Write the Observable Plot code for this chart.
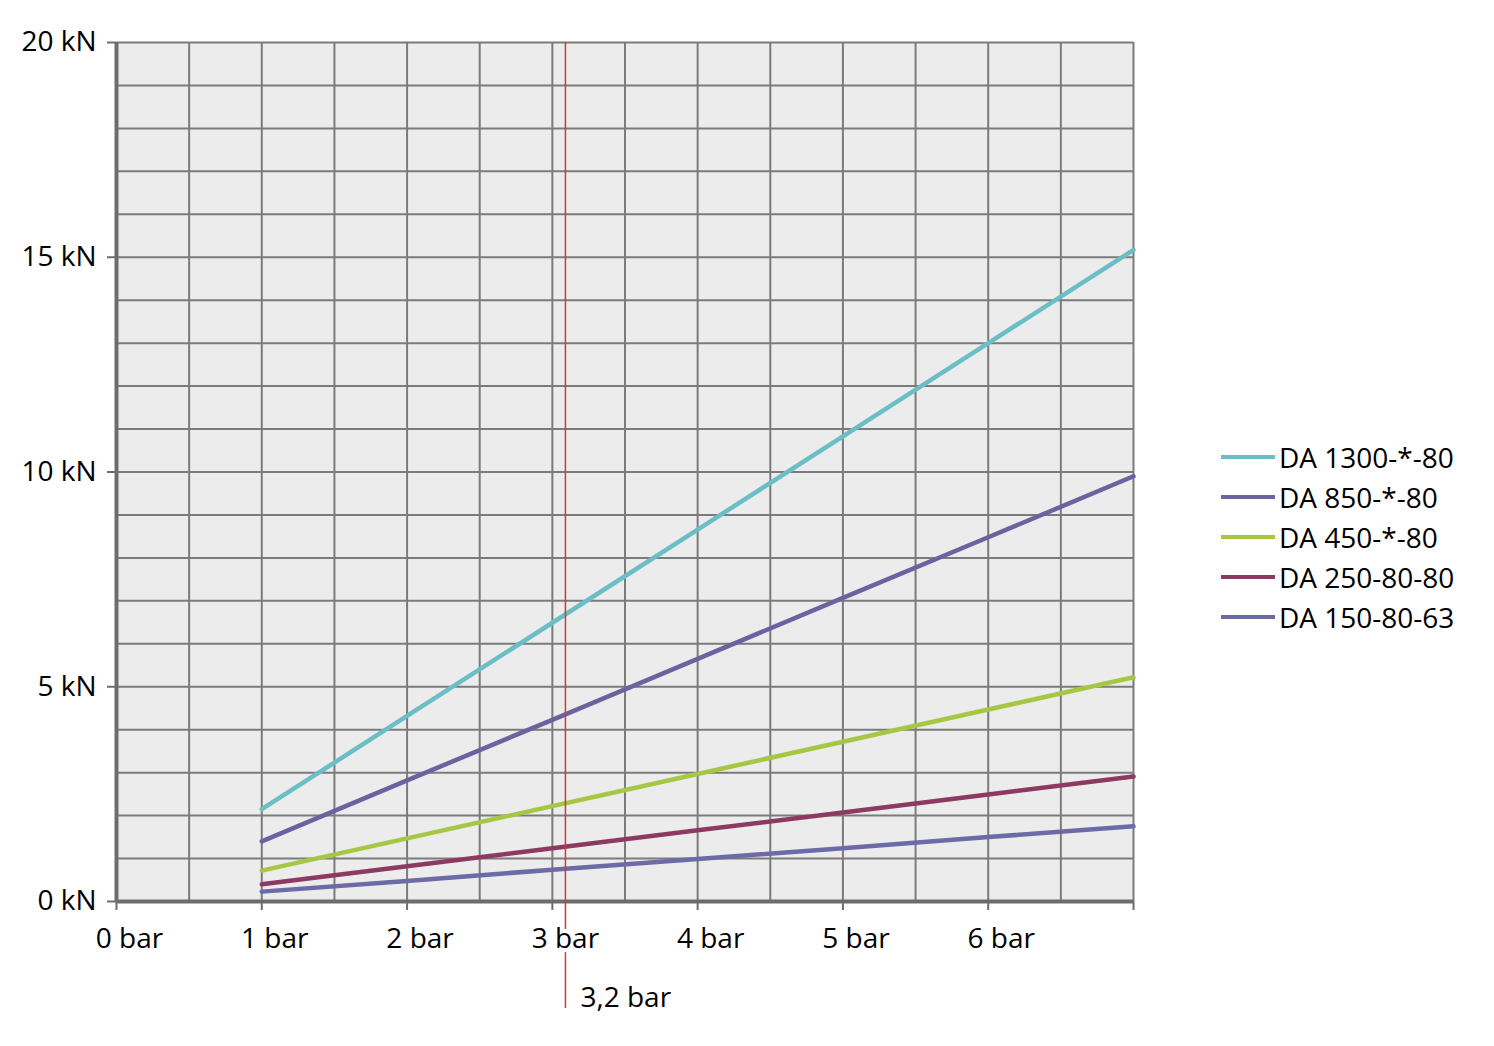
<!DOCTYPE html>
<html>
<head>
<meta charset="utf-8">
<script src="https://cdn.jsdelivr.net/npm/d3@7"></script>
<script src="https://cdn.jsdelivr.net/npm/@observablehq/plot@0.6"></script>
<style>
  html, body { margin: 0; padding: 0; background: #fff; }
  #wrap { display: flex; align-items: flex-start; width: 1494px; height: 1046px; font-family: "Open Sans", "Lato", sans-serif; }
  #legend { margin-top: 437px; margin-left: 61px; font-size: 28px; color: #000; white-space: nowrap; }
  .row { display: flex; align-items: center; height: 40px; }
  .sw { width: 54px; height: 4px; margin-right: 4px; flex: none; }
</style>
</head>
<body>
<div id="wrap"><div id="chart"></div><div id="legend"></div></div>
<script>
const pressures = [1, 2, 3, 4, 5, 6, 7];
const seriesNames = ["DA 1300-*-80", "DA 850-*-80", "DA 450-*-80", "DA 250-80-80", "DA 150-80-63"];
const seriesColors = ["#6bbec6", "#6a63a0", "#a6c644", "#8d3a63", "#6c6aa7"];
const da1300 = [2.15, 4.32, 6.49, 8.66, 10.83, 13.0, 15.17];
const da850 = [1.40, 2.82, 4.23, 5.65, 7.07, 8.48, 9.90];
const da450 = [0.72, 1.47, 2.22, 2.97, 3.72, 4.47, 5.22];
const da250 = [0.40, 0.82, 1.24, 1.66, 2.07, 2.49, 2.91];
const da150 = [0.23, 0.48, 0.74, 0.99, 1.24, 1.50, 1.75];
const seriesValues = [da1300, da850, da450, da250, da150];
const xTicks = [0, 1, 2, 3, 4, 5, 6, 7];
const xLabels = ["0 bar", "1 bar", "2 bar", "3 bar", "4 bar", "5 bar", "6 bar", ""];
const yTicks = [0, 5, 10, 15, 20];
const yLabels = ["0 kN", "5 kN", "10 kN", "15 kN", "20 kN"];
const markerX = 3.09;
const markerLabel = "3,2 bar";

const rows = [];
seriesNames.forEach((name, i) => {
  pressures.forEach((p, j) => rows.push({series: name, x: p, y: seriesValues[i][j]}));
});

const gridColor = "#7b7b7b";
const axisColor = "#6d6d6d";

const chart = Plot.plot({
  width: 1160,
  height: 1046,
  marginLeft: 116,
  marginRight: 27,
  marginTop: 42,
  marginBottom: 145,
  style: {fontFamily: "'Open Sans', Lato, sans-serif", fontSize: "28px", color: "#000", background: "#fff", overflow: "visible"},
  x: {domain: [0, 7]},
  y: {domain: [0, 20]},
  color: {domain: seriesNames, range: seriesColors},
  marks: [
    Plot.frame({fill: "#ececec", stroke: null}),
    Plot.gridX(d3.range(0, 7.01, 0.5), {stroke: gridColor, strokeOpacity: 1, strokeWidth: 2}),
    Plot.gridY(d3.range(0, 20.01, 1), {stroke: gridColor, strokeOpacity: 1, strokeWidth: 2}),
    Plot.ruleX([0], {stroke: axisColor, strokeWidth: 4}),
    Plot.ruleY([0], {stroke: axisColor, strokeWidth: 4}),
    Plot.axisX(xTicks, {tickSize: 9, tickFormat: () => "", stroke: axisColor, strokeWidth: 2, label: null}),
    Plot.axisX(xTicks, {tickSize: 0, tickPadding: 27, dx: 13, tickFormat: d => xLabels[xTicks.indexOf(d)], fill: "#000", label: null, fontSize: 28}),
    Plot.axisY(yTicks, {tickSize: 9, tickPadding: 11, tickFormat: d => yLabels[yTicks.indexOf(d)], stroke: axisColor, strokeWidth: 2, fill: "#000", label: null, fontSize: 28}),
    Plot.line(rows, {x: "x", y: "y", z: "series", stroke: "series", strokeWidth: 4.5}),
    Plot.ruleX([markerX], {y1: 20, y2: -0.65, stroke: "#d8372e", strokeWidth: 1.5}),
    Plot.ruleX([markerX], {y1: -1.19, y2: -2.49, stroke: "#d8372e", strokeWidth: 1.5}),
    Plot.text([markerLabel], {x: markerX, y: 0, dx: 15, dy: 97, text: d => d, textAnchor: "start", fill: "#000", fontSize: 28})
  ]
});
document.getElementById("chart").appendChild(chart);

const legend = document.getElementById("legend");
seriesNames.forEach((name, i) => {
  const row = document.createElement("div");
  row.className = "row";
  const sw = document.createElement("div");
  sw.className = "sw";
  sw.style.background = seriesColors[i];
  const t = document.createElement("span");
  t.textContent = name;
  row.appendChild(sw);
  row.appendChild(t);
  legend.appendChild(row);
});
</script>
</body>
</html>
